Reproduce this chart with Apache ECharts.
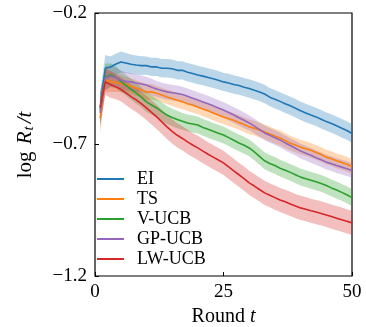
<!DOCTYPE html>
<html>
<head>
<meta charset="utf-8">
<script src="https://cdn.jsdelivr.net/npm/echarts@6/dist/echarts.min.js"></script>
<style>
  html, body { margin: 0; padding: 0; background: #fff; }
  #chart { width: 366px; height: 327px; }
</style>
</head>
<body>
<div id="chart"></div>
<script>
// rounds 1..50
const rounds = [1,2,3,4,5,6,7,8,9,10,11,12,13,14,15,16,17,18,19,20,21,22,23,24,25,26,27,28,29,30,31,32,33,34,35,36,37,38,39,40,41,42,43,44,45,46,47,48,49,50];

const eiMean = [-0.56,-0.41,-0.405,-0.395,-0.386,-0.39,-0.395,-0.398,-0.40,-0.40,-0.405,-0.405,-0.41,-0.41,-0.412,-0.418,-0.418,-0.425,-0.43,-0.436,-0.44,-0.445,-0.45,-0.456,-0.462,-0.466,-0.472,-0.476,-0.482,-0.487,-0.494,-0.50,-0.508,-0.52,-0.528,-0.536,-0.545,-0.553,-0.562,-0.572,-0.58,-0.588,-0.595,-0.604,-0.613,-0.62,-0.629,-0.638,-0.647,-0.658];
const tsMean = [-0.60,-0.455,-0.46,-0.465,-0.468,-0.472,-0.478,-0.485,-0.492,-0.50,-0.50,-0.505,-0.512,-0.519,-0.525,-0.532,-0.537,-0.545,-0.55,-0.557,-0.565,-0.572,-0.58,-0.588,-0.595,-0.602,-0.608,-0.616,-0.624,-0.633,-0.638,-0.645,-0.652,-0.66,-0.668,-0.675,-0.685,-0.695,-0.702,-0.71,-0.716,-0.722,-0.73,-0.738,-0.748,-0.754,-0.762,-0.768,-0.775,-0.784];
const vucbMean = [-0.57,-0.443,-0.436,-0.443,-0.46,-0.474,-0.49,-0.504,-0.52,-0.538,-0.55,-0.561,-0.575,-0.588,-0.597,-0.605,-0.612,-0.618,-0.622,-0.626,-0.635,-0.642,-0.65,-0.657,-0.664,-0.674,-0.684,-0.694,-0.703,-0.713,-0.728,-0.745,-0.762,-0.772,-0.78,-0.79,-0.798,-0.806,-0.815,-0.824,-0.83,-0.836,-0.842,-0.848,-0.856,-0.865,-0.873,-0.882,-0.891,-0.902];
const gpucbMean = [-0.58,-0.447,-0.44,-0.445,-0.455,-0.46,-0.462,-0.466,-0.47,-0.474,-0.482,-0.489,-0.495,-0.50,-0.503,-0.506,-0.51,-0.517,-0.524,-0.531,-0.538,-0.545,-0.553,-0.561,-0.569,-0.578,-0.588,-0.598,-0.608,-0.618,-0.63,-0.643,-0.656,-0.665,-0.674,-0.683,-0.694,-0.704,-0.714,-0.725,-0.733,-0.741,-0.75,-0.758,-0.767,-0.773,-0.78,-0.786,-0.792,-0.799];
const lwucbMean = [-0.56,-0.462,-0.472,-0.48,-0.49,-0.504,-0.518,-0.53,-0.545,-0.561,-0.578,-0.595,-0.614,-0.633,-0.65,-0.665,-0.677,-0.69,-0.702,-0.713,-0.725,-0.737,-0.748,-0.759,-0.77,-0.785,-0.80,-0.815,-0.83,-0.846,-0.858,-0.871,-0.884,-0.893,-0.902,-0.911,-0.918,-0.926,-0.934,-0.941,-0.946,-0.952,-0.957,-0.962,-0.968,-0.974,-0.98,-0.986,-0.992,-0.998];

// half width of the shaded band
const eiBand = [0.06,0.05,0.04,0.04,0.04,0.038,0.037,0.036,0.036,0.035,0.035,0.035,0.035,0.035,0.035,0.035,0.035,0.035,0.035,0.035,0.035,0.035,0.035,0.035,0.035,0.035,0.035,0.035,0.035,0.035,0.035,0.035,0.035,0.035,0.035,0.035,0.035,0.035,0.035,0.035,0.035,0.035,0.035,0.035,0.035,0.035,0.035,0.035,0.035,0.035];
const tsBand = [0.06,0.045,0.04,0.035,0.032,0.03,0.03,0.03,0.03,0.03,0.03,0.028,0.028,0.028,0.028,0.028,0.028,0.028,0.028,0.028,0.028,0.028,0.028,0.028,0.028,0.028,0.028,0.028,0.028,0.028,0.028,0.028,0.028,0.028,0.028,0.028,0.028,0.028,0.028,0.028,0.028,0.028,0.028,0.028,0.028,0.028,0.028,0.028,0.028,0.028];
const vucbBand = [0.06,0.05,0.045,0.042,0.04,0.04,0.04,0.04,0.038,0.038,0.036,0.035,0.035,0.034,0.033,0.033,0.032,0.032,0.032,0.032,0.032,0.032,0.032,0.032,0.032,0.032,0.032,0.032,0.032,0.032,0.032,0.032,0.032,0.032,0.032,0.032,0.032,0.032,0.032,0.032,0.032,0.032,0.032,0.032,0.032,0.032,0.032,0.032,0.032,0.032];
const gpucbBand = [0.06,0.045,0.04,0.038,0.036,0.035,0.034,0.033,0.032,0.032,0.032,0.03,0.03,0.03,0.03,0.03,0.03,0.03,0.03,0.03,0.03,0.03,0.03,0.03,0.03,0.03,0.03,0.03,0.03,0.028,0.028,0.028,0.028,0.028,0.028,0.028,0.028,0.028,0.028,0.028,0.028,0.028,0.028,0.028,0.028,0.028,0.028,0.028,0.028,0.028];
const lwucbBand = [0.06,0.05,0.05,0.048,0.046,0.046,0.046,0.046,0.046,0.046,0.046,0.046,0.046,0.046,0.046,0.046,0.046,0.046,0.046,0.046,0.046,0.046,0.046,0.046,0.046,0.046,0.046,0.046,0.046,0.046,0.046,0.046,0.046,0.046,0.046,0.046,0.046,0.046,0.046,0.046,0.046,0.046,0.046,0.046,0.046,0.046,0.046,0.046,0.046,0.046];

const names = ["EI", "TS", "V-UCB", "GP-UCB", "LW-UCB"];
const colors = ["#1f77b4", "#ff7f0e", "#2ca02c", "#9467bd", "#d62728"];
const yTicks = [-1.2, -0.7, -0.2];
const xTicks = [0, 25, 50];

const means = [eiMean, tsMean, vucbMean, gpucbMean, lwucbMean];
const bands = [eiBand, tsBand, vucbBand, gpucbBand, lwucbBand];

const font = "'Liberation Serif', 'DejaVu Serif', serif";

let series = [];
// shaded bands: one polygon per method, drawn through the axis scales
means.forEach((m, i) => {
  const b = bands[i];
  series.push({
    type: "custom",
    name: names[i] + "-band",
    silent: true,
    z: 1,
    data: rounds.map((t, k) => [t, m[k] - b[k], m[k] + b[k]]),
    encode: { x: 0, y: [1, 2] },
    renderItem: (params, api) => {
      if (params.dataIndex !== 0) return;
      const upper = rounds.map((t, k) => api.coord([t, m[k] + b[k]]));
      const lower = rounds.map((t, k) => api.coord([t, m[k] - b[k]])).reverse();
      return {
        type: "polygon",
        shape: { points: upper.concat(lower) },
        style: { fill: colors[i], opacity: 0.3 },
      };
    },
  });
});
means.forEach((m, i) => {
  series.push({
    type: "line",
    name: names[i],
    data: rounds.map((t, k) => [t, m[k]]),
    symbol: "none",
    color: colors[i],
    lineStyle: { width: 1.6, color: colors[i] },
    z: 3,
  });
});

const option = {
  animation: false,
  textStyle: { fontFamily: font },
  grid: {
    left: 95,
    right: 14,
    top: 13,
    bottom: 51,
    outerBoundsMode: "none",
    containLabel: false,
    show: true,
    borderColor: "#000",
    borderWidth: 1.2,
    backgroundColor: "transparent",
  },
  legend: {
    data: names,
    orient: "vertical",
    left: 97,
    top: 169,
    icon: "rect",
    itemWidth: 27,
    itemHeight: 2,
    itemGap: 0,
    padding: 0,
    textStyle: { fontFamily: font, fontSize: 18, color: "#000", lineHeight: 20, padding: [0, 0, 0, 8] },
  },
  xAxis: {
    type: "value",
    min: 0,
    max: 50,
    interval: 25,
    name: "Round {i|t}",
    nameLocation: "middle",
    nameGap: 30,
    nameTextStyle: {
      fontFamily: font,
      fontSize: 20,
      color: "#000",
      rich: { i: { fontFamily: font, fontSize: 20, fontStyle: "italic", color: "#000" } },
    },
    axisLine: { show: false },
    axisTick: { inside: true, length: 4, lineStyle: { color: "#000" } },
    axisLabel: { fontFamily: font, fontSize: 19, color: "#000", margin: 7, customValues: xTicks },
    splitLine: { show: false },
  },
  yAxis: {
    type: "value",
    min: -1.2,
    max: -0.2,
    name: "log {i|R}{s|t}{i|/t}",
    nameLocation: "middle",
    nameRotate: 90,
    nameGap: 58,
    nameTextStyle: {
      fontFamily: font,
      fontSize: 21,
      color: "#000",
      rich: {
        i: { fontFamily: font, fontSize: 21, fontStyle: "italic", color: "#000", padding: [0, 1, 0, 2] },
        s: { fontFamily: font, fontSize: 15, fontStyle: "italic", color: "#000", verticalAlign: "bottom", padding: [8, 1, 0, 0] },
      },
    },
    axisLine: { show: false },
    axisTick: { inside: true, length: 4, lineStyle: { color: "#000" }, customValues: yTicks },
    axisLabel: {
      fontFamily: font,
      fontSize: 19,
      color: "#000",
      margin: 8,
      customValues: yTicks,
      formatter: (v) => (v < 0 ? "\u2212" + Math.abs(v).toFixed(1) : v.toFixed(1)),
    },
    splitLine: { show: false },
  },
  series: series,
};

const myChart = echarts.init(document.getElementById("chart"));
myChart.setOption(option);
</script>
</body>
</html>
